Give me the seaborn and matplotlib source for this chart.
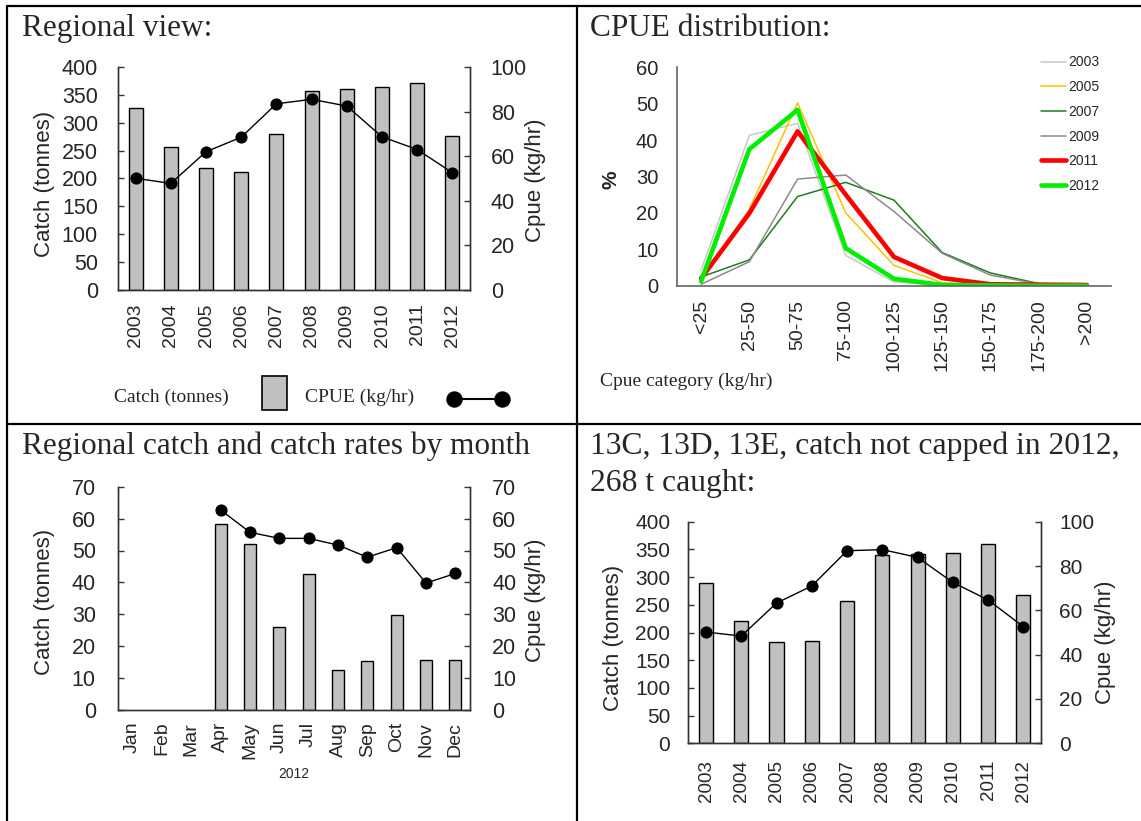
import numpy as np
import matplotlib
matplotlib.use("Agg")
import matplotlib.pyplot as plt
from matplotlib.lines import Line2D
from matplotlib.patches import Rectangle
import seaborn as sns

# ---- data -------------------------------------------------------------
years = ["2003", "2004", "2005", "2006", "2007", "2008", "2009", "2010", "2011", "2012"]

# regional catch (t) and CPUE (kg/hr) by year
region_catch = [326, 257, 218, 212, 279, 357, 360, 365, 371, 276]
region_cpue = [50.1, 47.8, 62.0, 68.5, 83.5, 85.5, 82.5, 68.7, 63.0, 52.6]

# CPUE distribution (% of records per CPUE class)
cpue_classes = ["<25", "25-50", "50-75", "75-100", "100-125",
                "125-150", "150-175", "175-200", ">200"]
pct_2003 = [4.3, 41.3, 44.6, 8.3, 1.0, 0.2, 0.1, 0.0, 0.0]
pct_2005 = [1.5, 21.0, 50.2, 20.0, 5.6, 0.8, 0.1, 0.0, 0.0]
pct_2007 = [2.4, 7.1, 24.5, 28.4, 23.5, 9.1, 3.5, 0.6, 0.1]
pct_2009 = [0.4, 6.6, 29.3, 30.4, 20.4, 8.9, 2.9, 0.5, 0.1]
pct_2011 = [2.0, 19.9, 42.4, 25.0, 7.9, 2.1, 0.4, 0.3, 0.2]
pct_2012 = [1.2, 37.5, 48.3, 10.3, 1.9, 0.2, 0.1, 0.0, 0.0]

# 2012 monthly catch (t) and CPUE (kg/hr)
months = ["Jan", "Feb", "Mar", "Apr", "May", "Jun",
          "Jul", "Aug", "Sep", "Oct", "Nov", "Dec"]
month_catch = [np.nan, np.nan, np.nan, 58.4, 52.0, 26.1, 42.6, 12.6, 15.3, 29.7, 15.8, 15.7]
month_cpue = [np.nan, np.nan, np.nan, 62.7, 55.7, 53.8, 53.8, 51.7, 47.9, 50.9, 39.8, 42.8]

# 13C, 13D, 13E catch (t) and CPUE (kg/hr) by year
sub_catch = [290, 221, 182, 184, 256, 340, 341, 343, 360, 268]
sub_cpue = [50.2, 48.4, 63.3, 71.0, 86.9, 87.4, 83.9, 72.6, 64.7, 52.6]

# ---- style ------------------------------------------------------------
sns.set_style("white")
SANS = ["Liberation Sans", "DejaVu Sans"]
SERIF = ["Liberation Serif", "DejaVu Serif"]
plt.rcParams["font.family"] = SANS
plt.rcParams["axes.edgecolor"] = "#333333"
plt.rcParams["axes.linewidth"] = 1.0

BAR = "#c0c0c0"
W, H = 1141, 821
fig = plt.figure(figsize=(W / 100, H / 100), dpi=100)
fig.patch.set_facecolor("white")


def px_axes(l, t, r, b):
    return fig.add_axes([l / W, 1 - b / H, (r - l) / W, (b - t) / H])


def ftext(x, y, s, **kw):
    return fig.text(x / W, 1 - y / H, s, **kw)


def fline(xs, ys, **kw):
    fig.add_artist(Line2D([x / W for x in xs], [1 - y / H for y in ys],
                          transform=fig.transFigure, **kw))


def bar_line(ax, cats, catch, cpue, left_max, left_step, right_max, right_step,
             yfs, xfs, ypad_l, ypad_r, xpad):
    n = len(cats)
    sns.barplot(x=cats, y=catch, order=cats, color=BAR, saturation=1,
                edgecolor="black", linewidth=1.0, width=0.4, ax=ax, zorder=2)
    ax2 = ax.twinx()
    sns.lineplot(x=np.arange(n), y=cpue, ax=ax2, color="black", linewidth=1.0,
                 marker="o", markersize=8, markeredgecolor="black")
    ax.set_xlim(-0.5, n - 0.5)
    ax.set_ylim(0, left_max)
    ax.set_yticks(np.arange(0, left_max + 1, left_step))
    ax2.set_ylim(0, right_max)
    ax2.set_yticks(np.arange(0, right_max + 1, right_step))
    for a in (ax, ax2):
        a.set_xlabel("")
        a.set_ylabel("")
        a.spines["top"].set_visible(False)
        for s in a.spines.values():
            s.set_color("#333333")
    ax.set_xticks(np.arange(n))
    ax.set_xticklabels(cats)
    ax.set_xticks(np.arange(n) + 0.5, minor=True)
    ax.tick_params(axis="x", which="major", length=0, labelsize=xfs,
                   labelrotation=90, pad=xpad)
    ax.tick_params(axis="x", which="minor", direction="in", length=3.5,
                   width=1, color="#333333")
    ax.tick_params(axis="y", direction="in", length=4.5, width=1,
                   labelsize=yfs, pad=ypad_l, color="#333333")
    ax2.tick_params(axis="y", direction="in", length=4.5, width=1,
                    labelsize=yfs, pad=ypad_r, color="#333333")
    return ax2


# ---- page grid --------------------------------------------------------
fline([7, W], [6, 6], color="black", lw=1.6)
fline([7, W], [424, 424], color="black", lw=1.6)
fline([7, 7], [6, H], color="black", lw=1.6)
fline([577, 577], [6, H], color="black", lw=1.6)

# ---- panel 1: regional view ------------------------------------------
ftext(22, 36, "Regional view:", family=SERIF, fontsize=22.5, va="baseline")
ax1 = px_axes(118, 67, 470, 290)
bar_line(ax1, years, region_catch, region_cpue, 400, 50, 100, 20,
         15.5, 14, 14.5, 15, 9.5)
ftext(45, 184, "Catch (tonnes)", fontsize=16, rotation=90, ha="center", va="center")
ftext(535, 180, "Cpue (kg/hr)", fontsize=16, rotation=90, ha="center", va="center")

# key below the chart
ftext(114, 397, "Catch (tonnes)", family=SERIF, fontsize=14, va="center")
fig.add_artist(Rectangle((261.5 / W, 1 - 410.5 / H), 25 / W, 34.5 / H,
                         transform=fig.transFigure, facecolor=BAR,
                         edgecolor="black", lw=1.2))
ftext(305, 397, "CPUE (kg/hr)", family=SERIF, fontsize=14, va="center")
fline([453.5, 501.5], [399, 399], color="black", lw=1.5, marker="o",
      markersize=10.8)

# ---- panel 2: CPUE distribution ---------------------------------------
ftext(590, 36.5, "CPUE distribution:", family=SERIF, fontsize=22.5, va="baseline")
ax2 = px_axes(677, 67.3, 1111, 285.7)
dist_series = [
    ("2003", pct_2003, "#c8c8c8", 1.1),
    ("2005", pct_2005, "#ffc000", 1.1),
    ("2007", pct_2007, "#1e7d1e", 1.1),
    ("2009", pct_2009, "#8a8a8a", 1.1),
    ("2011", pct_2011, "#ff0000", 3.3),
    ("2012", pct_2012, "#00ee00", 3.3),
]
xpos = np.arange(len(cpue_classes))
for label, vals, col, lw in dist_series:
    sns.lineplot(x=xpos, y=vals, ax=ax2, color=col, linewidth=lw, label=label,
                 solid_capstyle="round")
ax2.set_xlim(-0.5, len(cpue_classes) - 0.5)
ax2.set_ylim(0, 60)
ax2.set_yticks(np.arange(0, 61, 10))
ax2.set_xticks(xpos)
ax2.set_xticklabels(cpue_classes)
ax2.set_xticks(xpos + 0.5, minor=True)
for side in ("top", "right"):
    ax2.spines[side].set_visible(False)
for s in ax2.spines.values():
    s.set_color("#666666")
    s.set_linewidth(1.2)
ax2.tick_params(axis="x", which="major", length=0, labelsize=14,
                labelrotation=90, pad=10)
ax2.tick_params(axis="x", which="minor", direction="in", length=3.5,
                width=1, color="#666666")
ax2.tick_params(axis="y", direction="in", length=4.5, width=1,
                labelsize=14.5, pad=13.5, color="#666666")
ax2.set_xlabel("")
ax2.set_ylabel("")
ftext(611, 180, "%", fontsize=15, fontweight="bold", rotation=90,
      ha="center", va="center")
ftext(600, 381, "Cpue category (kg/hr)", family=SERIF, fontsize=14, va="center")
ax2.legend(loc="upper left", bbox_to_anchor=(1040.5 / W, 1 - 55.5 / H),
           bbox_transform=fig.transFigure, frameon=False, fontsize=10,
           handlelength=1.87, handletextpad=0.15, labelspacing=0.77,
           borderpad=0, borderaxespad=0)

# ---- panel 3: monthly catch and catch rate ----------------------------
ftext(22, 454, "Regional catch and catch rates by month", family=SERIF,
      fontsize=22.5, va="baseline")
ax3 = px_axes(118, 486.7, 470, 710)
bar_line(ax3, months, month_catch, month_cpue, 70, 10, 70, 10,
         15.5, 14, 16, 16, 8.5)
ftext(45, 602, "Catch (tonnes)", fontsize=16, rotation=90, ha="center", va="center")
ftext(535, 600, "Cpue (kg/hr)", fontsize=16, rotation=90, ha="center", va="center")
ftext(294, 774, "2012", fontsize=10, ha="center", va="center")

# ---- panel 4: 13C, 13D, 13E -------------------------------------------
ftext(590, 454, "13C, 13D, 13E, catch not capped in 2012,", family=SERIF,
      fontsize=22.8, va="baseline")
ftext(590, 491, "268 t caught:", family=SERIF, fontsize=22.8, va="baseline")
ax4 = px_axes(688.4, 521.7, 1041, 743.3)
bar_line(ax4, years, sub_catch, sub_cpue, 400, 50, 100, 20,
         15, 13.5, 13, 13, 12)
ftext(613, 638, "Catch (tonnes)", fontsize=16, rotation=90, ha="center", va="center")
ftext(1105, 642, "Cpue (kg/hr)", fontsize=16, rotation=90, ha="center", va="center")

fig.savefig("out.png", dpi=100, facecolor="white")
